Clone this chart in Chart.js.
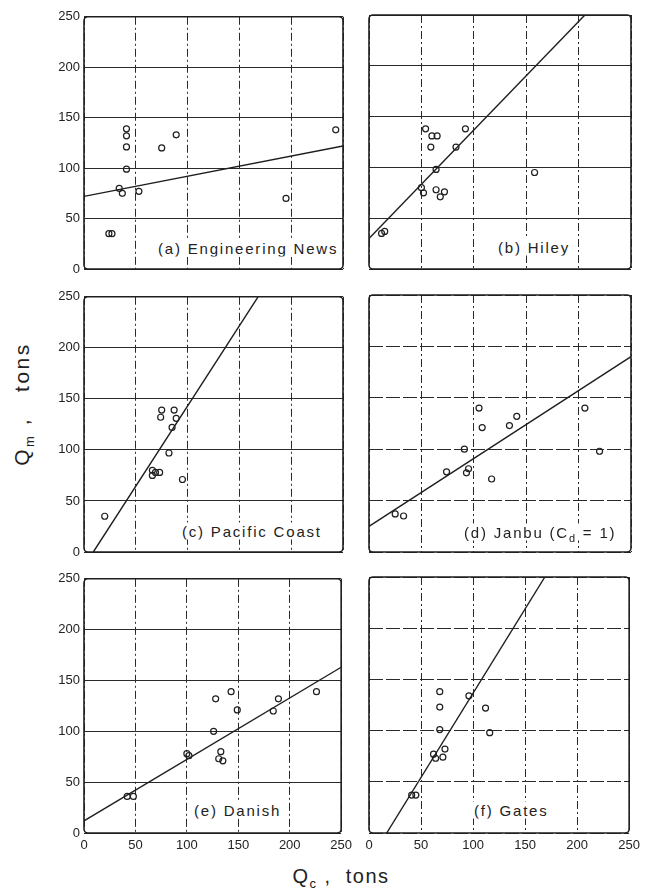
<!DOCTYPE html>
<html><head><meta charset="utf-8">
<script src="https://cdn.jsdelivr.net/npm/chart.js@4/dist/chart.umd.min.js"></script>
<style>
html,body{margin:0;padding:0;background:#fff;}
body{width:647px;height:894px;position:relative;overflow:hidden;font-family:"Liberation Sans",Arial,sans-serif;color:#222;}
canvas{position:absolute;}
.lbl{position:absolute;background:#fff;font-size:15px;letter-spacing:1.8px;white-space:nowrap;line-height:15px;padding:1px 2px;transform:translateY(-50%);}
.lbl sub{font-size:11px;vertical-align:-4px;line-height:0;}
.title{position:absolute;font-size:20px;letter-spacing:1.5px;white-space:nowrap;line-height:20px;}
.title sub{font-size:13px;vertical-align:-5px;line-height:0;}
#ytitle{font-size:21px;letter-spacing:2.5px;}
</style></head>
<body>
<script>
// ---- data ----
const tickValues = [0, 50, 100, 150, 200, 250];
const panelLabels = ["(a)  Engineering News", "(b)  Hiley", "(c)  Pacific Coast", "(d)  Janbu  (C<sub>d</sub> = 1)", "(e)  Danish", "(f)  Gates"];

const engNewsQc = [24, 27, 34, 37, 41, 41, 41, 41, 53, 75, 89, 195, 243];
const engNewsQm = [35, 35, 80, 75, 99, 121, 132, 139, 77, 120, 133, 70, 138];
const engNewsLine = [[0, 72], [250, 122]];

const hileyQc = [12, 15, 50, 52, 64, 68, 72, 64, 54, 60, 65, 59, 83, 92, 158];
const hileyQm = [35, 37, 80, 75, 78, 71, 76, 98, 138, 131, 131, 120, 120, 138, 95];
const hileyLine = [[0, 30], [206, 250]];

const pacificQc = [20, 75, 74, 87, 89, 85, 82, 66, 69, 73, 66, 95];
const pacificQm = [35, 139, 132, 139, 131, 122, 97, 75, 78, 78, 80, 71];
const pacificLine = [[9, 0], [168, 250]];

const janbuQc = [25, 33, 74, 93, 95, 91, 117, 108, 105, 134, 141, 206, 220];
const janbuQm = [37, 35, 78, 77, 81, 100, 71, 121, 140, 123, 132, 140, 98];
const janbuLine = [[0, 25], [250, 190]];

const danishQc = [42, 48, 100, 102, 126, 128, 143, 149, 133, 131, 135, 189, 184, 226];
const danishQm = [36, 36, 78, 76, 100, 132, 139, 121, 80, 73, 71, 132, 120, 139];
const danishLine = [[0, 12], [250, 163]];

const gatesQc = [41, 45, 62, 64, 71, 73, 68, 68, 68, 96, 112, 116];
const gatesQm = [37, 37, 77, 73, 74, 82, 101, 138, 123, 134, 122, 98];
const gatesLine = [[17, 0], [169, 250]];

const panels = [
  {qc: engNewsQc, qm: engNewsQm, line: engNewsLine},
  {qc: hileyQc, qm: hileyQm, line: hileyLine},
  {qc: pacificQc, qm: pacificQm, line: pacificLine},
  {qc: janbuQc, qm: janbuQm, line: janbuLine},
  {qc: danishQc, qm: danishQm, line: danishLine},
  {qc: gatesQc, qm: gatesQm, line: gatesLine}
];

// ---- layout ----
const colLeft = [84, 369], colRight = [343, 631];
const rowTop = [15, 295, 577], rowBottom = [269, 552, 833];
const yAxisW = 40, padTop = 10, padRight = 14;
const labelPos = [
  {left: 156, top: 248}, {left: 496, top: 247},
  {left: 180, top: 531}, {left: 462, top: 532},
  {left: 192, top: 810}, {left: 472, top: 810}
];

const boxPlugin = {
  id: 'box',
  beforeDatasetsDraw(chart) {
    const {ctx, chartArea: a} = chart;
    ctx.save();
    ctx.strokeStyle = '#1e1e1e';
    ctx.lineWidth = 1.6;
    ctx.beginPath();
    ctx.roundRect(a.left, a.top, a.right - a.left, a.bottom - a.top, 4);
    ctx.stroke();
    ctx.restore();
  }
};

panels.forEach((p, i) => {
  const col = i % 2, row = Math.floor(i / 2);
  const showX = row === 2, showY = col === 0;
  const xH = showX ? 24 : 0;
  const padBottom = showX ? 4 : 12;
  const cv = document.createElement('canvas');
  const w = yAxisW + (colRight[col] - colLeft[col]) + padRight;
  const h = padTop + (rowBottom[row] - rowTop[row]) + xH + padBottom;
  cv.width = w; cv.height = h;
  cv.style.left = (colLeft[col] - yAxisW) + 'px';
  cv.style.top = (rowTop[row] - padTop) + 'px';
  cv.style.width = w + 'px'; cv.style.height = h + 'px';
  document.body.appendChild(cv);

  const dashedH = (i === 3 || i === 5);
  new Chart(cv, {
    type: 'scatter',
    data: {
      datasets: [
        {
          data: p.qc.map((x, k) => ({x: x, y: p.qm[k]})),
          pointStyle: 'circle', pointRadius: 3, pointBorderWidth: 1.2,
          pointBorderColor: '#1e1e1e', pointBackgroundColor: 'rgba(0,0,0,0)',
          borderColor: '#1e1e1e', backgroundColor: 'rgba(0,0,0,0)'
        },
        {
          data: p.line.map(q => ({x: q[0], y: q[1]})),
          showLine: true, pointRadius: 0, borderWidth: 1.4,
          borderColor: '#1e1e1e', fill: false
        }
      ]
    },
    options: {
      responsive: false, animation: false, devicePixelRatio: 1,
      layout: {padding: {top: padTop, right: padRight, bottom: padBottom, left: 0}},
      plugins: {legend: {display: false}, tooltip: {enabled: false}},
      scales: {
        x: {
          type: 'linear', min: 0, max: 250,
          afterBuildTicks: s => { s.ticks = tickValues.map(v => ({value: v})); },
          afterFit: s => { s.height = xH; },
          grid: {color: '#2a2a2a', lineWidth: 1, drawTicks: false, borderDash: [8, 3, 2, 3]},
          border: {display: false, dash: [8, 3, 2, 3]},
          ticks: {display: showX, padding: 5, color: '#222', font: {family: 'Liberation Sans', size: 13}, maxRotation: 0}
        },
        y: {
          type: 'linear', min: 0, max: 250,
          afterBuildTicks: s => { s.ticks = tickValues.map(v => ({value: v})); },
          afterFit: s => { s.width = yAxisW; },
          grid: {color: '#2a2a2a', lineWidth: 1, drawTicks: false, borderDash: dashedH ? [14, 3] : []},
          border: {display: false, dash: dashedH ? [14, 3] : []},
          ticks: {display: showY, padding: 4, color: '#222', font: {family: 'Liberation Sans', size: 13}}
        }
      }
    },
    plugins: [boxPlugin]
  });

  const lb = document.createElement('div');
  lb.className = 'lbl';
  lb.innerHTML = panelLabels[i];
  lb.style.left = labelPos[i].left + 'px';
  lb.style.top = labelPos[i].top + 'px';
  document.body.appendChild(lb);
});

const yt = document.createElement('div');
yt.className = 'title';
yt.id = 'ytitle';
yt.innerHTML = 'Q<sub>m</sub>&nbsp;,&nbsp;&nbsp;&nbsp;tons';
yt.style.left = '22px'; yt.style.top = '404px';
yt.style.transform = 'translate(-50%,-50%) rotate(-90deg)';
document.body.appendChild(yt);

const xt = document.createElement('div');
xt.className = 'title';
xt.innerHTML = 'Q<sub>c</sub>&nbsp;,&nbsp;&nbsp;tons';
xt.style.left = '341px'; xt.style.top = '876px';
xt.style.transform = 'translate(-50%,-50%)';
document.body.appendChild(xt);
</script>
</body></html>
